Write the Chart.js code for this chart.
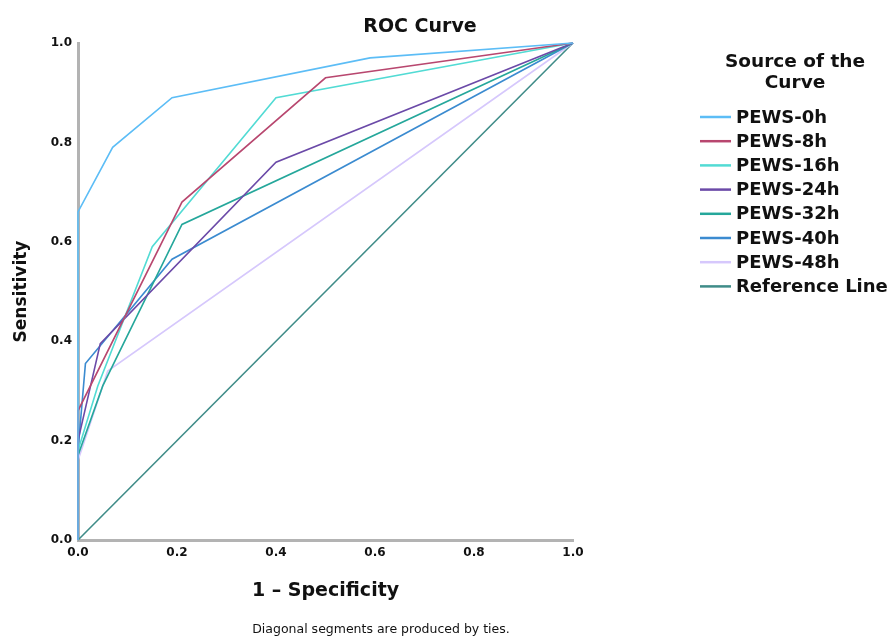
<!DOCTYPE html>
<html>
<head>
<meta charset="utf-8">
<script src="https://cdn.jsdelivr.net/npm/chart.js@4"></script>
<style>
  html, body { margin: 0; padding: 0; background: #fff; }
  #roc { display: block; }
</style>
</head>
<body>
<canvas id="roc" width="895" height="638"></canvas>
<script>
/* ===== Data (1 - specificity, sensitivity) ===== */
const seriesNames = ['PEWS-0h', 'PEWS-8h', 'PEWS-16h', 'PEWS-24h', 'PEWS-32h', 'PEWS-40h', 'PEWS-48h', 'Reference Line'];

const fpr0h = [0, 0, 0.07, 0.19, 0.59, 1];
const tpr0h = [0, 0.66, 0.79, 0.89, 0.97, 1];

const fpr8h = [0, 0, 0.21, 0.50, 1];
const tpr8h = [0, 0.26, 0.68, 0.93, 1];

const fpr16h = [0, 0, 0.04, 0.15, 0.40, 1];
const tpr16h = [0, 0.18, 0.31, 0.59, 0.89, 1];

const fpr24h = [0, 0, 0.045, 0.40, 1];
const tpr24h = [0, 0.20, 0.395, 0.76, 1];

const fpr32h = [0, 0, 0.05, 0.21, 1];
const tpr32h = [0, 0.17, 0.31, 0.635, 1];

const fpr40h = [0, 0, 0.015, 0.19, 1];
const tpr40h = [0, 0.18, 0.355, 0.565, 1];

const fpr48h = [0, 0, 0.06, 1];
const tpr48h = [0, 0.16, 0.34, 1];

const fprRef = [0, 1];
const tprRef = [0, 1];

const axisTicks = [0, 0.2, 0.4, 0.6, 0.8, 1.0];

const SERIES_COLORS = ['#5cbdf6', '#b8476f', '#52dbd4', '#6b4aa8', '#25a79b', '#3b8bd0', '#d6c8fc', '#3f8c88'];

const FONT = "'DejaVu Sans', Verdana, sans-serif";

function toPoints(xs, ys) {
    return xs.map((x, i) => ({ x, y: ys[i] }));
}

const allX = [fpr0h, fpr8h, fpr16h, fpr24h, fpr32h, fpr40h, fpr48h, fprRef];
const allY = [tpr0h, tpr8h, tpr16h, tpr24h, tpr32h, tpr40h, tpr48h, tprRef];

const datasets = seriesNames.map((name, i) => ({
    label: name,
    data: toPoints(allX[i], allY[i]),
    showLine: true,
    borderColor: SERIES_COLORS[i],
    backgroundColor: SERIES_COLORS[i],
    borderWidth: 1.6,
    pointRadius: 0,
    tension: 0,
    clip: 4,
}));

/* ===== Extra text: title, legend, footnote ===== */
const extrasPlugin = {
    id: 'extras',
    afterDraw(chart) {
        const ctx = chart.ctx;
        ctx.save();
        ctx.fillStyle = '#111';
        ctx.textAlign = 'center';
        ctx.textBaseline = 'middle';

        ctx.font = `bold 19px ${FONT}`;
        ctx.fillText('ROC Curve', 420, 27);

        ctx.font = `bold 18.5px ${FONT}`;
        ctx.fillText('Source of the', 795, 62);
        ctx.fillText('Curve', 795, 83);

        ctx.font = `bold 18px ${FONT}`;
        ctx.textAlign = 'left';
        seriesNames.forEach((name, i) => {
            const y = 117 + i * 24.2;
            ctx.strokeStyle = SERIES_COLORS[i];
            ctx.lineWidth = 2.5;
            ctx.beginPath();
            ctx.moveTo(700, y);
            ctx.lineTo(731, y);
            ctx.stroke();
            ctx.fillText(name, 736, y + 1);
        });

        ctx.font = `12.5px ${FONT}`;
        ctx.textAlign = 'center';
        ctx.fillText('Diagonal segments are produced by ties.', 381, 630);
        ctx.restore();
    }
};

const axisCommon = {
    type: 'linear',
    min: 0,
    max: 1,
    grid: { color: 'rgba(0,0,0,0)', drawTicks: false },
    border: { color: '#b3b3b3', width: 3 },
    ticks: {
        color: '#111',
        font: { family: FONT, size: 12, weight: 'bold' },
        stepSize: 0.2,
        autoSkip: false,
        callback: v => (axisTicks.some(t => Math.abs(t - v) < 1e-6) ? v.toFixed(1) : ''),
    },
};

new Chart(document.getElementById('roc'), {
    type: 'scatter',
    data: { datasets },
    options: {
        responsive: false,
        animation: false,
        layout: { padding: { left: 0, top: 43, right: 322, bottom: 0 } },
        plugins: { legend: { display: false }, tooltip: { enabled: false } },
        scales: {
            x: {
                ...axisCommon,
                ticks: { ...axisCommon.ticks, padding: 6 },
                title: { display: true, text: '1 – Specificity', color: '#111', font: { family: FONT, size: 19, weight: 'bold' }, padding: { top: 0, bottom: 36 } },
                afterFit: s => { s.height = 98; },
            },
            y: {
                ...axisCommon,
                ticks: { ...axisCommon.ticks, padding: 6 },
                title: { display: true, text: 'Sensitivity', color: '#111', font: { family: FONT, size: 17, weight: 'bold' }, padding: { top: 11, bottom: 0 } },
                afterFit: s => { s.width = 78; },
            },
        },
    },
    plugins: [extrasPlugin],
});
</script>
</body>
</html>
